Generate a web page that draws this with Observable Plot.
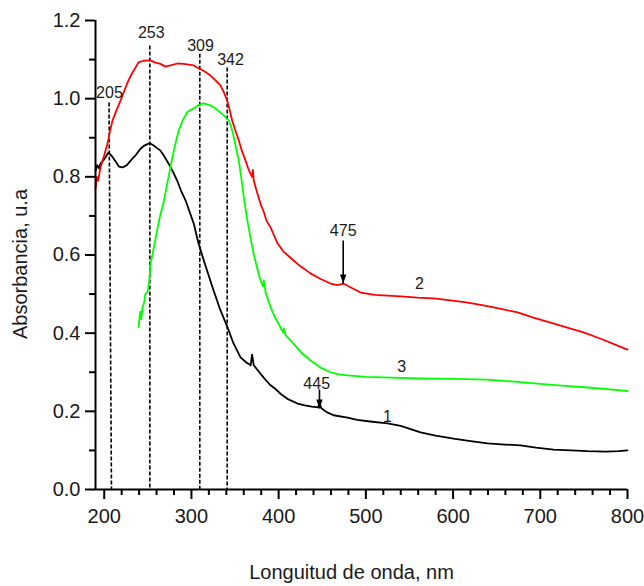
<!DOCTYPE html>
<html>
<head>
<meta charset="utf-8">
<script src="https://cdn.jsdelivr.net/npm/d3@7"></script>
<script src="https://cdn.jsdelivr.net/npm/@observablehq/plot@0.6"></script>
<style>
  html, body { margin: 0; padding: 0; background: #fff; }
  #chart svg { display: block; }
</style>
</head>
<body>
<div id="chart"></div>
<script>
// ---- data (wavelength nm, absorbance) ----
const curve1 = [[190,0.815],[192,0.83],[194,0.822],[195.7,0.834],[200,0.845],[204.9,0.862],[208,0.855],[212.9,0.84],[217,0.826],[221,0.824],[226,0.83],[232.4,0.847],[236,0.855],[241.6,0.872],[246,0.88],[250.8,0.885],[253,0.885],[258,0.878],[264.5,0.867],[269,0.852],[274,0.833],[279,0.812],[283.7,0.79],[288,0.765],[293.2,0.74],[298,0.71],[302.7,0.68],[308.1,0.63],[315,0.58],[325.3,0.51],[333,0.46],[341.4,0.415],[348,0.375],[356.3,0.338],[363,0.325],[368,0.318],[369.5,0.345],[371.5,0.318],[376,0.305],[382.6,0.287],[390,0.268],[396,0.258],[402.1,0.245],[410,0.232],[421.6,0.22],[430,0.215],[438,0.212],[445,0.21],[447,0.22],[449,0.208],[455,0.198],[462.9,0.19],[479,0.184],[490,0.178],[505,0.174],[524.8,0.169],[540,0.163],[562.7,0.146],[580,0.138],[600.5,0.13],[620,0.124],[639.5,0.118],[660,0.115],[677.3,0.113],[695,0.107],[715.2,0.102],[735,0.1],[754.2,0.098],[775,0.097],[790,0.098],[800,0.1]];

const curve2 = [[190,0.77],[191.5,0.8],[193,0.79],[195.7,0.824],[200,0.855],[203.8,0.885],[206.5,0.915],[209.5,0.944],[214,0.97],[218.7,0.995],[223,1.02],[227.8,1.047],[232,1.065],[236,1.08],[239.3,1.093],[245,1.097],[250.8,1.098],[253,1.098],[258,1.093],[264.5,1.089],[270,1.082],[276,1.085],[284,1.09],[291.2,1.089],[297,1.087],[302.7,1.085],[307,1.079],[310.4,1.076],[316,1.068],[321.9,1.059],[327,1.048],[333.3,1.034],[338,1.012],[341,0.995],[344,0.97],[346.7,0.944],[350.5,0.918],[354.3,0.893],[358,0.865],[362,0.842],[365,0.822],[367.7,0.808],[369.5,0.8],[370.5,0.818],[371.5,0.79],[373.5,0.774],[376,0.755],[379.2,0.731],[383,0.71],[386,0.688],[390.7,0.671],[395,0.648],[398.7,0.63],[405,0.61],[410,0.6],[417,0.586],[425,0.571],[436.5,0.553],[447,0.54],[459.5,0.527],[467,0.523],[474.4,0.527],[480,0.52],[493.9,0.504],[510,0.498],[524.8,0.496],[540,0.494],[559.2,0.491],[578,0.489],[597,0.484],[615,0.479],[634.9,0.471],[655,0.462],[673.9,0.453],[692,0.44],[711.7,0.427],[730,0.415],[749.6,0.402],[770,0.385],[788.6,0.368],[800,0.358]];

const curve3 = [[239.3,0.415],[240.5,0.44],[241.5,0.455],[242.5,0.435],[243.9,0.466],[246,0.48],[247,0.5],[249.6,0.505],[251.5,0.53],[253.1,0.578],[257,0.62],[260.8,0.665],[264,0.7],[268.3,0.737],[272,0.78],[276,0.825],[280,0.87],[285.5,0.919],[290,0.945],[295.1,0.965],[300,0.972],[304.7,0.978],[309,0.985],[314.2,0.988],[320,0.984],[325.7,0.978],[330,0.97],[335.3,0.961],[342.9,0.944],[346,0.925],[348.6,0.902],[351,0.875],[354.3,0.842],[357,0.8],[360,0.748],[364,0.69],[368,0.64],[371.2,0.604],[375,0.57],[379.2,0.535],[382,0.52],[383,0.535],[385,0.505],[390.7,0.466],[396,0.44],[402.1,0.415],[405,0.402],[406,0.412],[408,0.395],[417,0.373],[426,0.35],[436.5,0.33],[448,0.312],[459.5,0.3],[470,0.294],[479,0.292],[500,0.288],[530,0.286],[562.7,0.284],[600,0.283],[639.5,0.281],[670,0.276],[696.8,0.271],[725,0.266],[754.2,0.261],[780,0.256],[800,0.252]];

// peak marker lines (dashed verticals) and their labels
const peakLabels  = ["205", "253", "309", "342"];
const peakTopX    = [205.5, 252.3, 309.6, 341];
const peakBottomX = [208.3, 252.3, 309.6, 341];
const peakTopY    = [0.99, 1.136, 1.115, 1.08];
const peakLabelX  = [206, 253.9, 310.4, 344.8];
const peakLabelY  = [1.016, 1.169, 1.136, 1.098];

// arrows
const arrowLabels = ["475", "445"];
const arrowX      = [474, 446.8];
const arrowFromY  = [0.637, 0.256];
const arrowTipY   = [0.527, 0.207];
const arrowLabelX = [474, 443.6];
const arrowLabelY = [0.662, 0.269];

// series numbers
const seriesLabels = ["1", "2", "3"];
const seriesLabelX = [524.8, 561.5, 541];
const seriesLabelY = [0.187, 0.525, 0.315];

// axis ticks
const xMajorTicks = [200, 300, 400, 500, 600, 700, 800];
const xMinorTicks = d3.range(220, 800, 20).filter(v => v % 100 !== 0);
const yMajorTicks = [0, 0.2, 0.4, 0.6, 0.8, 1.0, 1.2];
const yMinorTicks = [0.1, 0.3, 0.5, 0.7, 0.9, 1.1];

const xTitle = "Longuitud de onda, nm";
const yTitle = "Absorbancia, u.a";

// ---- build tables ----
const peaks = peakLabels.map((l, i) => ({label: l, tx: peakTopX[i], bx: peakBottomX[i], ty: peakTopY[i], lx: peakLabelX[i], ly: peakLabelY[i]}));
const arrows = arrowLabels.map((l, i) => ({label: l, x: arrowX[i], y1: arrowFromY[i], y2: arrowTipY[i], lx: arrowLabelX[i], ly: arrowLabelY[i]}));
const seriesTags = seriesLabels.map((l, i) => ({label: l, x: seriesLabelX[i], y: seriesLabelY[i]}));

const arrowHead = {
  draw(ctx) {
    ctx.moveTo(0, 0);
    ctx.lineTo(-3.2, -9);
    ctx.lineTo(3.2, -9);
    ctx.closePath();
  }
};

const FONT = "'Liberation Sans', Arial, Helvetica, sans-serif";
const TXT = "#1a1a1a";

const chart = Plot.plot({
  width: 644,
  height: 586,
  marginLeft: 95,
  marginRight: 17,
  marginTop: 20,
  marginBottom: 97,
  x: {domain: [190, 800]},
  y: {domain: [0, 1.2]},
  style: {fontFamily: FONT, fontSize: "20px", color: TXT, background: "#fff", overflow: "visible"},
  marks: [
    // dashed peak lines
    Plot.link(peaks, {x1: "tx", y1: "ty", x2: "bx", y2: () => 0, stroke: "#000", strokeWidth: 1.6, strokeDasharray: "4,2"}),
    // curves
    Plot.line(curve1, {x: d => d[0], y: d => d[1], stroke: "#000000", strokeWidth: 1.8}),
    Plot.line(curve3, {x: d => d[0], y: d => d[1], stroke: "#00ff00", strokeWidth: 1.8}),
    Plot.line(curve2, {x: d => d[0], y: d => d[1], stroke: "#ff0000", strokeWidth: 1.8}),
    // axes lines
    Plot.ruleY([0], {x1: 190, x2: 800, stroke: "#000", strokeWidth: 2}),
    Plot.ruleX([190], {y1: 0, y2: 1.2, stroke: "#000", strokeWidth: 2}),
    // ticks
    Plot.axisX(xMajorTicks, {tickSize: 10, tickPadding: 9, strokeWidth: 2, stroke: "#000", fontSize: 20, fill: TXT, label: null, tickFormat: d => String(d)}),
    Plot.axisX(xMinorTicks, {tickSize: 6, strokeWidth: 2, stroke: "#000", label: null, tickFormat: () => ""}),
    Plot.axisY(yMajorTicks, {tickSize: 10, tickPadding: 5, strokeWidth: 2, stroke: "#000", fontSize: 20, fill: TXT, label: null, tickFormat: d3.format(".1f")}),
    Plot.axisY(yMinorTicks, {tickSize: 6, strokeWidth: 2, stroke: "#000", label: null, tickFormat: () => ""}),
    // peak labels
    Plot.text(peaks, {x: "lx", y: "ly", text: "label", fontSize: 16, fill: TXT}),
    // arrows
    Plot.link(arrows, {x1: "x", x2: "x", y1: "y1", y2: "y2", stroke: "#000", strokeWidth: 1.6}),
    Plot.dot(arrows, {x: "x", y: "y2", symbol: arrowHead, fill: "#000", stroke: null, r: 4}),
    Plot.text(arrows, {x: "lx", y: "ly", text: "label", fontSize: 16, fill: TXT}),
    // series labels
    Plot.text(seriesTags, {x: "x", y: "y", text: "label", fontSize: 16, fill: TXT}),
    // axis titles
    Plot.text([xTitle], {text: d => d, frameAnchor: "bottom", textAnchor: "middle", lineAnchor: "middle", dx: -10, dy: 83, fontSize: 20, fill: TXT}),
    Plot.text([yTitle], {text: d => d, frameAnchor: "left", textAnchor: "middle", lineAnchor: "middle", dx: -75, dy: 9, rotate: -90, fontSize: 20, fill: TXT})
  ]
});

document.getElementById("chart").appendChild(chart);
</script>
</body>
</html>
